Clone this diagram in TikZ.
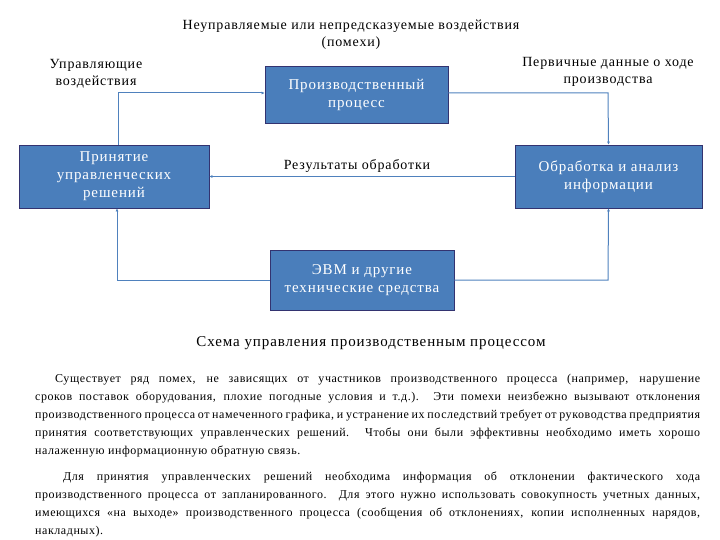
\documentclass[tikz,border=0pt]{standalone}
\usepackage{fontspec}
\setmainfont{Liberation Serif}
\newfontfamily\wide[LetterSpace=6]{Liberation Serif}
\newfontfamily\wideb[LetterSpace=4.6]{Liberation Serif}
\usetikzlibrary{arrows.meta}
\begin{document}
\begin{tikzpicture}[x=1pt,y=-1pt,
 box/.style={draw=blue!30!black!80!white,line width=0.8pt,fill={rgb,255:red,74;green,126;blue,187},text=white,font=\wide\fontsize{15}{18}\selectfont,align=center,inner sep=0pt},
 conn/.style={draw={rgb,255:red,79;green,129;blue,189},line width=1pt,-{Latex[length=3pt,width=3pt]}},
 lbl/.style={font=\wide\fontsize{14}{17}\selectfont,align=center}]
\useasboundingbox (0,0) rectangle (720,540);
\node[box,minimum width=183pt,minimum height=57pt] (prod) at (356.5,94.5) {Производственный\\процесс};
\node[box,minimum width=190pt,minimum height=63pt] (dec) at (114,176.5) {Принятие\\управленческих\\решений};
\node[box,minimum width=187pt,minimum height=63pt] (an) at (608.5,176.5) {Обработка и анализ\\информации};
\node[box,minimum width=184pt,minimum height=60pt] (evm) at (362,280) {ЭВМ и другие\\технические средства};
\node[lbl] (t1) at (351,35) {Неуправляемые или непредсказуемые воздействия\\(помехи)};
\node[lbl] (t2) at (96,74) {Управляющие\\воздействия};
\node[lbl] (t3) at (608,72) {Первичные данные о ходе\\производства};
\node[lbl] (t4) at (357,166) {Результаты обработки};
\coordinate (c1) at (118,93);
\coordinate (c2) at (608,93);
\coordinate (c3) at (117,280);
\coordinate (c4) at (608,280);
\draw[conn] (dec.north -| c1) -- (c1) -- (prod.west |- c1);
\draw[conn] (prod.east |- c2) -- (c2) -- (an.north);
\draw[conn] (an.west) -- (dec.east);
\draw[conn] (evm.west) -- (c3) -- (dec.south -| c3);
\draw[conn] (evm.east) -- (c4) -- (an.south);
\node[font=\wide\fontsize{15}{18}\selectfont] (cap) at (371,343) {Схема управления производственным процессом};
\node[text width=665pt,align=justify,font=\wideb\fontsize{12}{18}\selectfont,inner sep=0pt,anchor=north west] (p1) at (35,374) {\hspace*{20pt}Существует ряд помех, не зависящих от участников производственного процесса (например, нарушение сроков поставок оборудования, плохие погодные условия и т.д.). Эти помехи неизбежно вызывают отклонения производственного процесса от намеченного графика, и устранение их последствий требует от руководства предприятия принятия соответствующих управленческих решений. Чтобы они были эффективны необходимо иметь хорошо налаженную информационную обратную связь.};
\node[text width=665pt,align=justify,font=\wideb\fontsize{12}{18}\selectfont,inner sep=0pt,anchor=north west] (p2) at (35,472) {\hspace*{28pt}Для принятия управленческих решений необходима информация об отклонении фактического хода производственного процесса от запланированного. Для этого нужно использовать совокупность учетных данных, имеющихся «на выходе» производственного процесса (сообщения об отклонениях, копии исполненных нарядов, накладных).};
\end{tikzpicture}
\end{document}
